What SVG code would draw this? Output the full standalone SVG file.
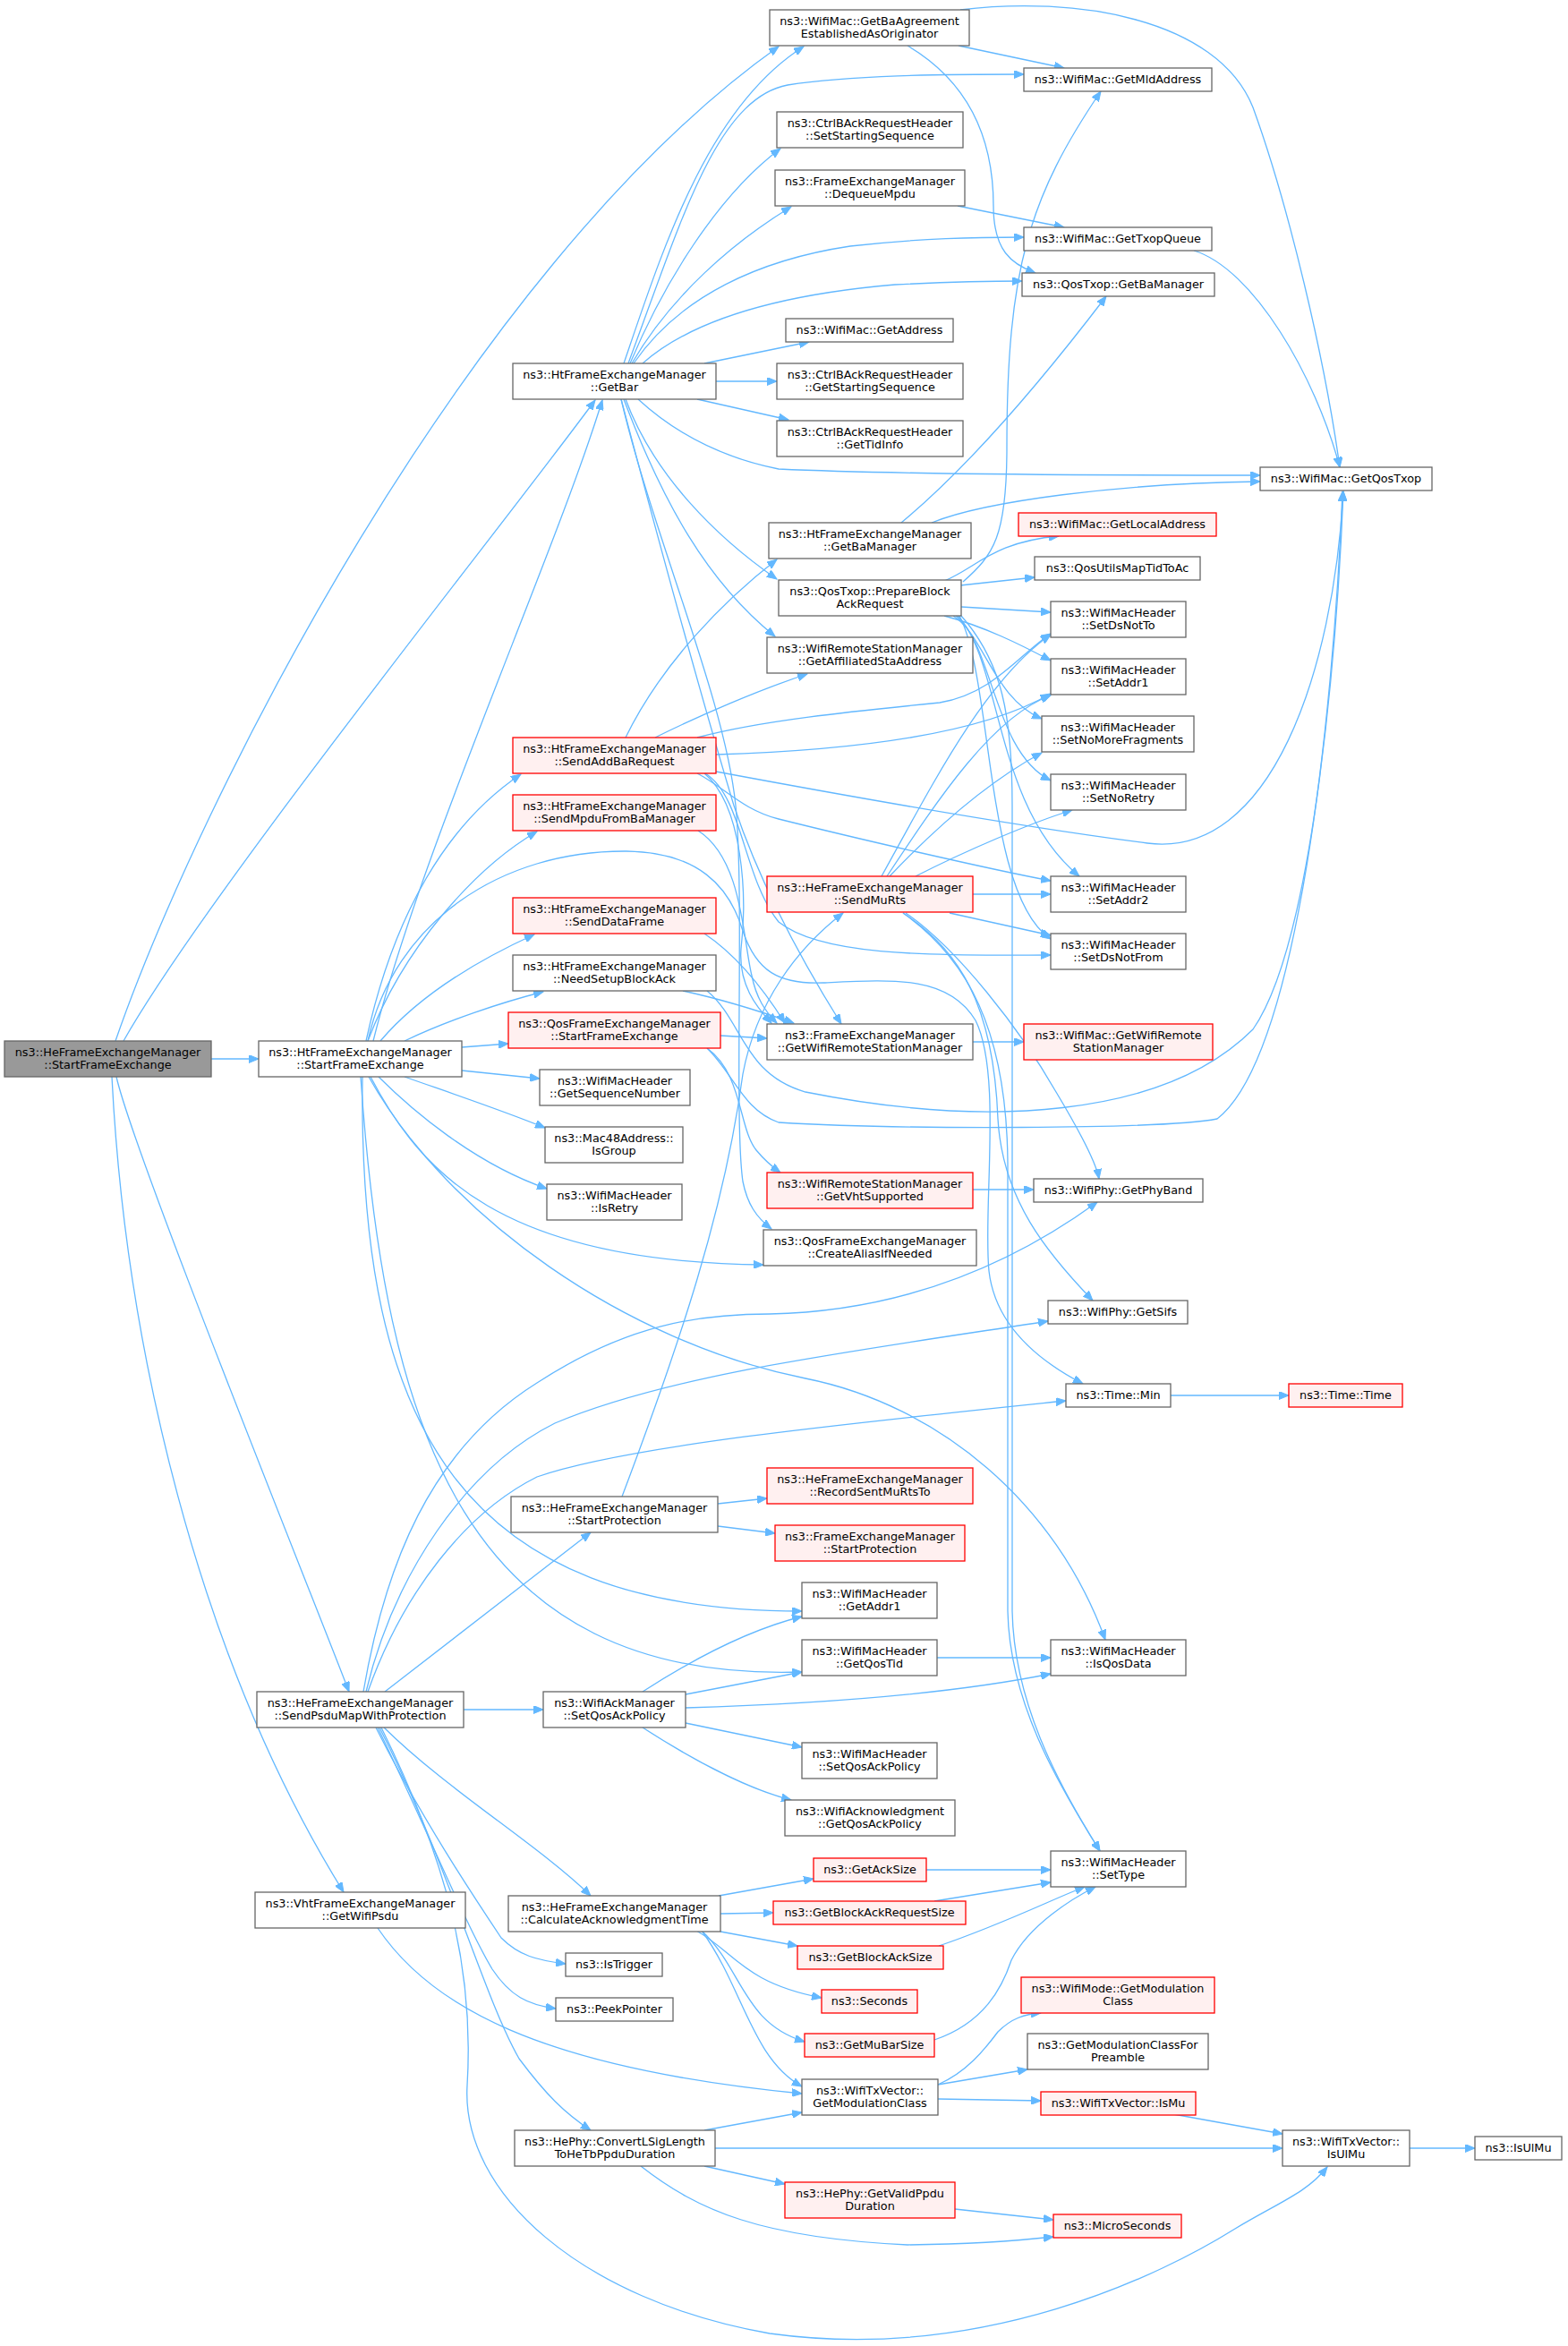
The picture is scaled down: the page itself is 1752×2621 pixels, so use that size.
<svg xmlns="http://www.w3.org/2000/svg" width="1752" height="2621" viewBox="0 0 1752 2621">
<style>
rect{fill:#ffffff;stroke:#666666;stroke-width:1.3}
.r rect{fill:#fff0f0;stroke:#ff0000}
.g rect{fill:#999999;stroke:#666666}
text{font-family:"DejaVu Sans","Noto Sans",sans-serif;font-size:12.8px;text-anchor:middle;fill:#000000}
#edges path{fill:none;stroke:#63b8ff;stroke-width:1.3;marker-end:url(#a)}
</style>
<defs>
<marker id="a" markerUnits="userSpaceOnUse" markerWidth="12" markerHeight="9" refX="11" refY="4.5" orient="auto">
<path d="M0,0 L11,4.5 L0,9 z" fill="#63b8ff" stroke="#63b8ff" stroke-width="1"/>
</marker>
</defs>
<rect x="0" y="0" width="1752" height="2621" style="fill:#ffffff;stroke:none"/>
<g id="edges">
<path d="M236,1183 L289,1183"/>
<path d="M129,1163 C220,900 520,300 870,52"/>
<path d="M138,1163 C230,1000 560,590 665,447"/>
<path d="M130,1203 C150,1290 340,1760 390,1890"/>
<path d="M125,1203 C140,1500 220,1850 384,2114"/>
<path d="M417,1163 C470,950 620,620 673,447"/>
<path d="M409,1163 C440,1020 500,920 582,865"/>
<path d="M411,1163 C450,1060 530,970 600,929"/>
<path d="M425,1163 C470,1110 540,1070 597,1044"/>
<path d="M452,1163 C500,1140 560,1120 607,1108"/>
<path d="M516,1170 L568,1166"/>
<path d="M516,1196 L603,1205"/>
<path d="M452,1203 C500,1220 560,1240 609,1260"/>
<path d="M423,1203 C460,1240 530,1300 611,1328"/>
<path d="M414,1203 C470,1310 560,1410 853,1413"/>
<path d="M412,1203 C500,1360 700,1500 900,1540 C1050,1570 1180,1680 1235,1832"/>
<path d="M405,1203 C400,1600 520,1800 896,1800"/>
<path d="M403,1203 C430,1600 520,1880 896,1868"/>
<path d="M411,1163 C440,1030 560,950 700,951 C780,952 815,990 830,1040 C845,1085 870,1100 920,1098 C1000,1094 1060,1090 1090,1140 C1120,1200 1098,1350 1105,1420 C1112,1480 1160,1520 1210,1546"/>
<path d="M697,406 C740,280 790,120 898,52"/>
<path d="M702,406 C760,250 800,110 880,95 C950,84 1050,83 1144,83"/>
<path d="M704,406 C740,320 800,220 872,166"/>
<path d="M706,406 C750,330 820,270 884,231"/>
<path d="M708,406 C760,330 850,290 950,275 C1030,266 1090,265 1144,265"/>
<path d="M718,406 C770,360 860,330 1000,318 C1060,315 1100,314 1142,314"/>
<path d="M787,406 L904,382"/>
<path d="M800,426 L868,426"/>
<path d="M779,446 L881,469"/>
<path d="M713,446 C750,480 800,510 870,524 C1000,530 1200,531 1408,531"/>
<path d="M699,446 C730,530 800,600 868,647"/>
<path d="M697,446 C740,560 790,650 866,711"/>
<path d="M694,446 C740,620 790,800 820,900 C850,990 900,1080 940,1144"/>
<path d="M694,446 C730,600 810,780 822,900 C832,1000 820,1250 830,1320 C835,1345 845,1360 862,1373"/>
<path d="M699,824 C740,740 810,670 868,625"/>
<path d="M732,824 C780,800 850,770 902,753"/>
<path d="M779,824 C850,805 950,795 1050,785 C1110,775 1140,730 1174,708"/>
<path d="M800,843 C900,840 1080,830 1174,775"/>
<path d="M779,864 C810,880 830,905 870,915 C950,935 1100,970 1174,984"/>
<path d="M800,862 C950,890 1150,925 1282,942 C1420,960 1490,750 1501,549"/>
<path d="M788,864 C830,890 830,980 870,1030 C920,1070 1050,1067 1174,1067"/>
<path d="M787,864 C830,900 835,1000 828,1060 C825,1100 845,1125 862,1143"/>
<path d="M780,928 C830,960 830,1050 840,1090 C845,1115 855,1130 868,1143"/>
<path d="M787,1043 C820,1065 850,1100 877,1143"/>
<path d="M763,1107 C800,1115 850,1130 887,1143"/>
<path d="M790,1107 C830,1140 830,1200 900,1220 C1100,1260 1300,1250 1400,1150 C1470,1050 1495,700 1501,549"/>
<path d="M805,1157 L857,1160"/>
<path d="M790,1171 C820,1200 830,1240 870,1254 C1000,1262 1300,1262 1360,1250 C1450,1180 1490,800 1500,549"/>
<path d="M790,1171 C830,1200 825,1260 845,1285 C855,1297 862,1303 872,1310"/>
<path d="M1007,584 C1060,540 1130,470 1236,331"/>
<path d="M1041,584 C1100,560 1250,540 1408,538"/>
<path d="M1071,51 L1189,76"/>
<path d="M1014,51 C1080,90 1110,150 1110,230 C1110,280 1130,295 1157,305"/>
<path d="M1073,11 C1200,-5 1360,20 1400,120 C1440,230 1480,400 1497,522"/>
<path d="M1070,230 L1189,254"/>
<path d="M1334,280 C1400,300 1470,420 1497,522"/>
<path d="M1055,649 C1090,635 1110,605 1183,599"/>
<path d="M1073,654 L1156,645"/>
<path d="M1076,650 C1110,620 1125,600 1125,500 C1125,300 1150,220 1230,102"/>
<path d="M1074,678 L1174,684"/>
<path d="M1055,688 C1100,700 1140,720 1174,738"/>
<path d="M1065,688 C1100,710 1110,780 1164,803"/>
<path d="M1068,688 C1110,720 1110,840 1174,872"/>
<path d="M1070,688 C1120,740 1110,900 1206,979"/>
<path d="M1072,688 C1110,760 1100,1000 1174,1049"/>
<path d="M1074,688 C1120,740 1131,800 1131,900 L1131,1800 C1133,1900 1180,1990 1229,2068"/>
<path d="M985,979 C1040,880 1100,760 1174,709"/>
<path d="M991,979 C1050,890 1110,800 1174,777"/>
<path d="M994,979 C1050,920 1110,870 1164,841"/>
<path d="M1023,979 C1080,950 1150,920 1198,905"/>
<path d="M1087,999 L1174,999"/>
<path d="M1061,1020 L1174,1045"/>
<path d="M1012,1020 C1070,1060 1140,1150 1180,1220 C1210,1270 1225,1300 1228,1317"/>
<path d="M1009,1020 C1070,1060 1110,1120 1115,1250 C1120,1340 1170,1400 1221,1453"/>
<path d="M1009,1020 C1080,1070 1125,1150 1126,1300 L1126,1800 C1128,1900 1180,1990 1229,2068"/>
<path d="M695,1672 C760,1500 810,1350 830,1200 C845,1120 890,1060 942,1020"/>
<path d="M802,1680 L857,1674"/>
<path d="M802,1705 L866,1713"/>
<path d="M1087,1164 L1144,1164"/>
<path d="M1087,1329 L1155,1329"/>
<path d="M1308,1559 L1440,1559"/>
<path d="M430,1890 L660,1712"/>
<path d="M406,1890 C430,1750 480,1620 600,1545 C700,1480 780,1468 860,1468 C1000,1465 1120,1420 1226,1343"/>
<path d="M409,1890 C440,1760 520,1640 620,1590 C750,1535 950,1510 1171,1476"/>
<path d="M411,1890 C450,1780 520,1690 600,1650 C700,1615 950,1590 1191,1565"/>
<path d="M518,1910 L607,1910"/>
<path d="M429,1930 C500,2000 600,2060 660,2118"/>
<path d="M420,1930 C470,2030 530,2120 560,2165 C580,2185 600,2190 632,2194"/>
<path d="M422,1930 C480,2050 520,2150 550,2200 C570,2230 590,2240 621,2244"/>
<path d="M424,1930 C500,2080 540,2230 580,2300 C610,2340 630,2360 660,2380"/>
<path d="M426,1930 C500,2080 530,2200 522,2330 C515,2450 650,2570 860,2607 C1100,2640 1300,2540 1380,2490 C1430,2460 1460,2450 1483,2421"/>
<path d="M718,1890 C780,1850 840,1820 896,1806"/>
<path d="M766,1893 L896,1868"/>
<path d="M766,1908 C900,1904 1050,1895 1174,1870"/>
<path d="M766,1925 L896,1952"/>
<path d="M718,1930 C780,1970 840,2000 884,2011"/>
<path d="M1047,1852 L1174,1852"/>
<path d="M422,2154 C480,2240 600,2310 896,2339"/>
<path d="M803,2118 L909,2099"/>
<path d="M805,2138 L864,2137"/>
<path d="M805,2158 L891,2174"/>
<path d="M778,2157 C820,2180 830,2215 918,2232"/>
<path d="M784,2157 C830,2200 830,2260 899,2281"/>
<path d="M784,2157 C830,2220 840,2300 896,2331"/>
<path d="M787,2380 L896,2360"/>
<path d="M799,2400 L1433,2400"/>
<path d="M787,2420 L877,2440"/>
<path d="M716,2420 C780,2470 850,2500 1014,2508 C1100,2507 1150,2502 1177,2499"/>
<path d="M1067,2468 L1177,2480"/>
<path d="M1035,2089 L1174,2089"/>
<path d="M1044,2124 L1174,2103"/>
<path d="M1049,2174 C1120,2150 1180,2120 1212,2108"/>
<path d="M1044,2279 C1100,2260 1120,2220 1130,2190 C1150,2150 1200,2120 1224,2108"/>
<path d="M1048,2329 C1080,2315 1100,2290 1115,2270 C1130,2255 1145,2250 1163,2249"/>
<path d="M1048,2329 L1148,2312"/>
<path d="M1048,2345 L1163,2347"/>
<path d="M1311,2362 L1433,2384"/>
<path d="M1575,2400 L1648,2400"/>
</g>
<g id="n0" class="g"><rect x="5" y="1163" width="231" height="40"/><text x="120.5" y="1179.5">ns3::HeFrameExchangeManager</text><text x="120.5" y="1194">::StartFrameExchange</text></g>
<g id="n1"><rect x="289" y="1163" width="227" height="40"/><text x="402.5" y="1179.5">ns3::HtFrameExchangeManager</text><text x="402.5" y="1194">::StartFrameExchange</text></g>
<g id="n2"><rect x="573" y="406" width="227" height="40"/><text x="686.5" y="422.5">ns3::HtFrameExchangeManager</text><text x="686.5" y="437">::GetBar</text></g>
<g id="n3" class="r"><rect x="573" y="824" width="227" height="40"/><text x="686.5" y="840.5">ns3::HtFrameExchangeManager</text><text x="686.5" y="855">::SendAddBaRequest</text></g>
<g id="n4" class="r"><rect x="573" y="888" width="227" height="40"/><text x="686.5" y="904.5">ns3::HtFrameExchangeManager</text><text x="686.5" y="919">::SendMpduFromBaManager</text></g>
<g id="n5" class="r"><rect x="573" y="1003" width="227" height="40"/><text x="686.5" y="1019.5">ns3::HtFrameExchangeManager</text><text x="686.5" y="1034">::SendDataFrame</text></g>
<g id="n6"><rect x="573" y="1067" width="227" height="40"/><text x="686.5" y="1083.5">ns3::HtFrameExchangeManager</text><text x="686.5" y="1098">::NeedSetupBlockAck</text></g>
<g id="n7" class="r"><rect x="568" y="1131" width="237" height="40"/><text x="686.5" y="1147.5">ns3::QosFrameExchangeManager</text><text x="686.5" y="1162">::StartFrameExchange</text></g>
<g id="n8"><rect x="603" y="1195" width="168" height="40"/><text x="687" y="1211.5">ns3::WifiMacHeader</text><text x="687" y="1226">::GetSequenceNumber</text></g>
<g id="n9"><rect x="609" y="1259" width="154" height="40"/><text x="686" y="1275.5">ns3::Mac48Address::</text><text x="686" y="1290">IsGroup</text></g>
<g id="n10"><rect x="611" y="1323" width="151" height="40"/><text x="686.5" y="1339.5">ns3::WifiMacHeader</text><text x="686.5" y="1354">::IsRetry</text></g>
<g id="n11"><rect x="571" y="1672" width="231" height="40"/><text x="686.5" y="1688.5">ns3::HeFrameExchangeManager</text><text x="686.5" y="1703">::StartProtection</text></g>
<g id="n12"><rect x="287" y="1890" width="231" height="40"/><text x="402.5" y="1906.5">ns3::HeFrameExchangeManager</text><text x="402.5" y="1921">::SendPsduMapWithProtection</text></g>
<g id="n13"><rect x="607" y="1890" width="159" height="40"/><text x="686.5" y="1906.5">ns3::WifiAckManager</text><text x="686.5" y="1921">::SetQosAckPolicy</text></g>
<g id="n14"><rect x="285" y="2114" width="235" height="40"/><text x="402.5" y="2130.5">ns3::VhtFrameExchangeManager</text><text x="402.5" y="2145">::GetWifiPsdu</text></g>
<g id="n15"><rect x="568" y="2118" width="237" height="40"/><text x="686.5" y="2134.5">ns3::HeFrameExchangeManager</text><text x="686.5" y="2149">::CalculateAcknowledgmentTime</text></g>
<g id="n16"><rect x="632" y="2182" width="108" height="26"/><text x="686" y="2199">ns3::IsTrigger</text></g>
<g id="n17"><rect x="621" y="2232" width="131" height="26"/><text x="686.5" y="2249">ns3::PeekPointer</text></g>
<g id="n18"><rect x="575" y="2380" width="224" height="40"/><text x="687" y="2396.5">ns3::HePhy::ConvertLSigLength</text><text x="687" y="2411">ToHeTbPpduDuration</text></g>
<g id="n19"><rect x="860" y="11" width="223" height="40"/><text x="971.5" y="27.5">ns3::WifiMac::GetBaAgreement</text><text x="971.5" y="42">EstablishedAsOriginator</text></g>
<g id="n20"><rect x="868" y="125" width="208" height="40"/><text x="972" y="141.5">ns3::CtrlBAckRequestHeader</text><text x="972" y="156">::SetStartingSequence</text></g>
<g id="n21"><rect x="866" y="190" width="212" height="40"/><text x="972" y="206.5">ns3::FrameExchangeManager</text><text x="972" y="221">::DequeueMpdu</text></g>
<g id="n22"><rect x="878" y="356" width="187" height="26"/><text x="971.5" y="373">ns3::WifiMac::GetAddress</text></g>
<g id="n23"><rect x="868" y="406" width="208" height="40"/><text x="972" y="422.5">ns3::CtrlBAckRequestHeader</text><text x="972" y="437">::GetStartingSequence</text></g>
<g id="n24"><rect x="868" y="470" width="208" height="40"/><text x="972" y="486.5">ns3::CtrlBAckRequestHeader</text><text x="972" y="501">::GetTidInfo</text></g>
<g id="n25"><rect x="859" y="584" width="226" height="40"/><text x="972" y="600.5">ns3::HtFrameExchangeManager</text><text x="972" y="615">::GetBaManager</text></g>
<g id="n26"><rect x="870" y="648" width="204" height="40"/><text x="972" y="664.5">ns3::QosTxop::PrepareBlock</text><text x="972" y="679">AckRequest</text></g>
<g id="n27"><rect x="857" y="712" width="230" height="40"/><text x="972" y="728.5">ns3::WifiRemoteStationManager</text><text x="972" y="743">::GetAffiliatedStaAddress</text></g>
<g id="n28" class="r"><rect x="857" y="979" width="230" height="40"/><text x="972" y="995.5">ns3::HeFrameExchangeManager</text><text x="972" y="1010">::SendMuRts</text></g>
<g id="n29"><rect x="857" y="1144" width="230" height="40"/><text x="972" y="1160.5">ns3::FrameExchangeManager</text><text x="972" y="1175">::GetWifiRemoteStationManager</text></g>
<g id="n30" class="r"><rect x="857" y="1310" width="230" height="40"/><text x="972" y="1326.5">ns3::WifiRemoteStationManager</text><text x="972" y="1341">::GetVhtSupported</text></g>
<g id="n31"><rect x="853" y="1374" width="238" height="40"/><text x="972" y="1390.5">ns3::QosFrameExchangeManager</text><text x="972" y="1405">::CreateAliasIfNeeded</text></g>
<g id="n32" class="r"><rect x="857" y="1640" width="230" height="40"/><text x="972" y="1656.5">ns3::HeFrameExchangeManager</text><text x="972" y="1671">::RecordSentMuRtsTo</text></g>
<g id="n33" class="r"><rect x="866" y="1704" width="212" height="40"/><text x="972" y="1720.5">ns3::FrameExchangeManager</text><text x="972" y="1735">::StartProtection</text></g>
<g id="n34"><rect x="896" y="1768" width="151" height="40"/><text x="971.5" y="1784.5">ns3::WifiMacHeader</text><text x="971.5" y="1799">::GetAddr1</text></g>
<g id="n35"><rect x="896" y="1832" width="151" height="40"/><text x="971.5" y="1848.5">ns3::WifiMacHeader</text><text x="971.5" y="1863">::GetQosTid</text></g>
<g id="n36"><rect x="896" y="1947" width="151" height="40"/><text x="971.5" y="1963.5">ns3::WifiMacHeader</text><text x="971.5" y="1978">::SetQosAckPolicy</text></g>
<g id="n37"><rect x="877" y="2011" width="190" height="40"/><text x="972" y="2027.5">ns3::WifiAcknowledgment</text><text x="972" y="2042">::GetQosAckPolicy</text></g>
<g id="n38" class="r"><rect x="909" y="2076" width="126" height="26"/><text x="972" y="2093">ns3::GetAckSize</text></g>
<g id="n39" class="r"><rect x="864" y="2124" width="215" height="26"/><text x="971.5" y="2141">ns3::GetBlockAckRequestSize</text></g>
<g id="n40" class="r"><rect x="891" y="2174" width="163" height="26"/><text x="972.5" y="2191">ns3::GetBlockAckSize</text></g>
<g id="n41" class="r"><rect x="918" y="2223" width="107" height="26"/><text x="971.5" y="2240">ns3::Seconds</text></g>
<g id="n42" class="r"><rect x="899" y="2272" width="145" height="26"/><text x="971.5" y="2289">ns3::GetMuBarSize</text></g>
<g id="n43"><rect x="896" y="2323" width="152" height="40"/><text x="972" y="2339.5">ns3::WifiTxVector::</text><text x="972" y="2354">GetModulationClass</text></g>
<g id="n44" class="r"><rect x="877" y="2438" width="190" height="40"/><text x="972" y="2454.5">ns3::HePhy::GetValidPpdu</text><text x="972" y="2469">Duration</text></g>
<g id="n45"><rect x="1144" y="76" width="210" height="26"/><text x="1249" y="93">ns3::WifiMac::GetMldAddress</text></g>
<g id="n46"><rect x="1144" y="254" width="210" height="26"/><text x="1249" y="271">ns3::WifiMac::GetTxopQueue</text></g>
<g id="n47"><rect x="1142" y="305" width="215" height="26"/><text x="1249.5" y="322">ns3::QosTxop::GetBaManager</text></g>
<g id="n48" class="r"><rect x="1138" y="573" width="221" height="26"/><text x="1248.5" y="590">ns3::WifiMac::GetLocalAddress</text></g>
<g id="n49"><rect x="1156" y="622" width="185" height="26"/><text x="1248.5" y="639">ns3::QosUtilsMapTidToAc</text></g>
<g id="n50"><rect x="1174" y="672" width="151" height="40"/><text x="1249.5" y="688.5">ns3::WifiMacHeader</text><text x="1249.5" y="703">::SetDsNotTo</text></g>
<g id="n51"><rect x="1174" y="736" width="151" height="40"/><text x="1249.5" y="752.5">ns3::WifiMacHeader</text><text x="1249.5" y="767">::SetAddr1</text></g>
<g id="n52"><rect x="1164" y="800" width="170" height="40"/><text x="1249" y="816.5">ns3::WifiMacHeader</text><text x="1249" y="831">::SetNoMoreFragments</text></g>
<g id="n53"><rect x="1174" y="865" width="151" height="40"/><text x="1249.5" y="881.5">ns3::WifiMacHeader</text><text x="1249.5" y="896">::SetNoRetry</text></g>
<g id="n54"><rect x="1174" y="979" width="151" height="40"/><text x="1249.5" y="995.5">ns3::WifiMacHeader</text><text x="1249.5" y="1010">::SetAddr2</text></g>
<g id="n55"><rect x="1174" y="1043" width="151" height="40"/><text x="1249.5" y="1059.5">ns3::WifiMacHeader</text><text x="1249.5" y="1074">::SetDsNotFrom</text></g>
<g id="n56" class="r"><rect x="1144" y="1144" width="211" height="40"/><text x="1249.5" y="1160.5">ns3::WifiMac::GetWifiRemote</text><text x="1249.5" y="1175">StationManager</text></g>
<g id="n57"><rect x="1155" y="1317" width="189" height="26"/><text x="1249.5" y="1334">ns3::WifiPhy::GetPhyBand</text></g>
<g id="n58"><rect x="1171" y="1453" width="156" height="26"/><text x="1249" y="1470">ns3::WifiPhy::GetSifs</text></g>
<g id="n59"><rect x="1191" y="1546" width="117" height="26"/><text x="1249.5" y="1563">ns3::Time::Min</text></g>
<g id="n60"><rect x="1174" y="1832" width="151" height="40"/><text x="1249.5" y="1848.5">ns3::WifiMacHeader</text><text x="1249.5" y="1863">::IsQosData</text></g>
<g id="n61"><rect x="1174" y="2068" width="151" height="40"/><text x="1249.5" y="2084.5">ns3::WifiMacHeader</text><text x="1249.5" y="2099">::SetType</text></g>
<g id="n62" class="r"><rect x="1141" y="2209" width="216" height="40"/><text x="1249" y="2225.5">ns3::WifiMode::GetModulation</text><text x="1249" y="2240">Class</text></g>
<g id="n63"><rect x="1148" y="2272" width="202" height="40"/><text x="1249" y="2288.5">ns3::GetModulationClassFor</text><text x="1249" y="2303">Preamble</text></g>
<g id="n64" class="r"><rect x="1163" y="2337" width="173" height="26"/><text x="1249.5" y="2354">ns3::WifiTxVector::IsMu</text></g>
<g id="n65" class="r"><rect x="1177" y="2474" width="143" height="26"/><text x="1248.5" y="2491">ns3::MicroSeconds</text></g>
<g id="n66"><rect x="1408" y="522" width="192" height="26"/><text x="1504" y="539">ns3::WifiMac::GetQosTxop</text></g>
<g id="n67" class="r"><rect x="1440" y="1546" width="127" height="26"/><text x="1503.5" y="1563">ns3::Time::Time</text></g>
<g id="n68"><rect x="1433" y="2380" width="142" height="40"/><text x="1504" y="2396.5">ns3::WifiTxVector::</text><text x="1504" y="2411">IsUlMu</text></g>
<g id="n69"><rect x="1648" y="2387" width="97" height="26"/><text x="1696.5" y="2404">ns3::IsUlMu</text></g>
</svg>
